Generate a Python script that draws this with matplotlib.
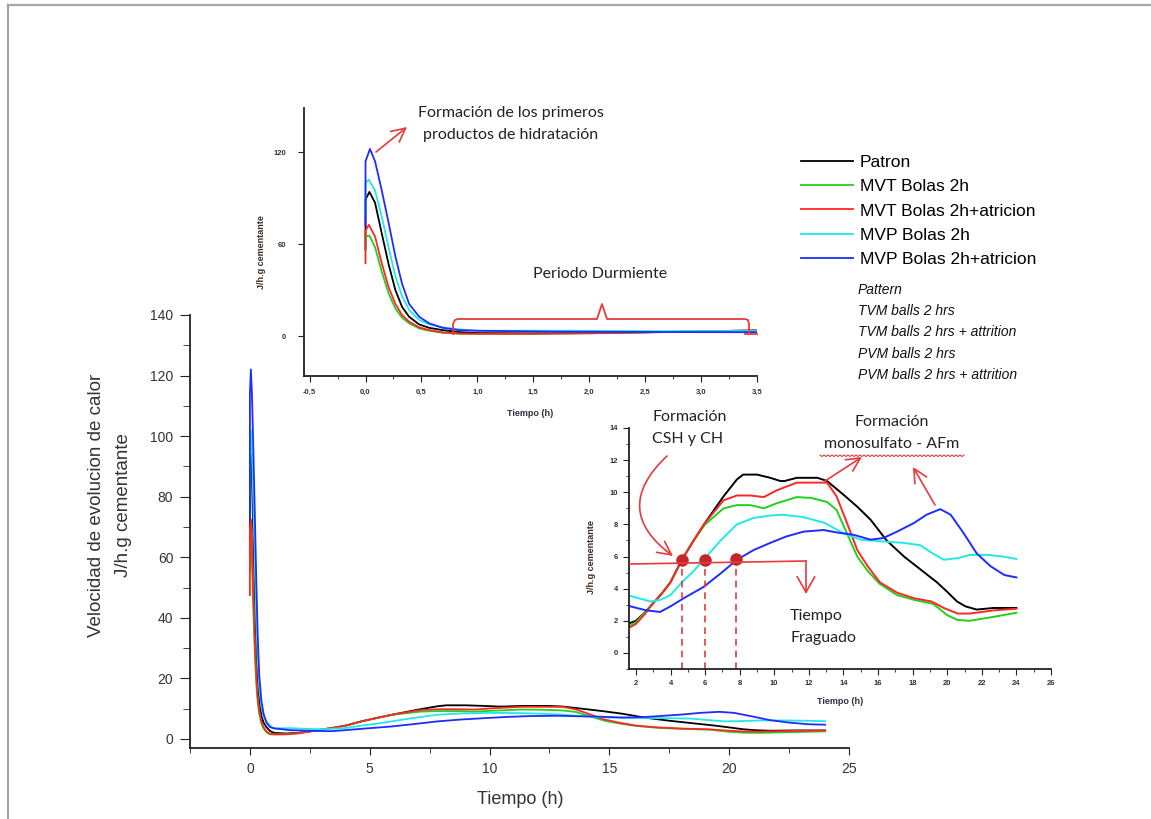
import numpy as np
import matplotlib
matplotlib.use("Agg")
import matplotlib.pyplot as plt
from matplotlib.lines import Line2D
from matplotlib.ticker import MultipleLocator, FuncFormatter

W, H = 1151, 819

# heat flow curves, time in h and J/h.g cementante
t_patron = [0, 0, 0.035, 0.085, 0.145, 0.206, 0.267, 0.327, 0.39, 0.48, 0.57, 0.69, 0.84, 1.0,
            1.5, 2.0, 2.5, 3.0, 3.5, 4.0, 4.66, 5.34, 6.0, 7.07, 7.84, 8.2, 9.0, 9.77, 10.35,
            10.6, 11.3, 12.5, 13.05, 14.0, 14.8, 15.56, 16.5, 17.5, 18.45, 19.4, 20.0, 20.57,
            21.05, 21.7, 22.7, 24.0]
q_patron = [57, 89, 94, 87, 67, 47, 30, 19, 12.6, 7.6, 5.4, 3.9, 2.6, 2.0,
            1.8, 2.0, 2.5, 3.1, 3.7, 4.4, 5.8, 7.0, 8.1, 9.75, 10.8, 11.1, 11.1, 10.9, 10.7,
            10.7, 10.9, 10.9, 10.7, 9.85, 9.1, 8.3, 7.0, 6.0, 5.2, 4.4, 3.8, 3.2,
            2.9, 2.7, 2.8, 2.8]

t_mvt = [0, 0, 0.035, 0.085, 0.145, 0.206, 0.267, 0.327, 0.39, 0.48, 0.57, 0.69, 0.84, 1.0,
         1.5, 2.0, 2.5, 3.0, 3.5, 4.0, 4.66, 5.34, 6.0, 7.07, 7.84, 8.6, 9.4, 10.1, 11.3,
         12.1, 13.05, 13.6, 14.2, 14.8, 15.4, 16.1, 17.1, 18.1, 19.2, 20.0, 20.6, 21.3,
         22.7, 24.0]
q_mvt = [56, 65, 65.5, 58, 42, 28, 18, 12, 8.3, 5.0, 3.5, 2.2, 1.5, 1.5,
         1.6, 1.9, 2.5, 3.1, 3.7, 4.4, 5.8, 7.0, 8.0, 9.0, 9.2, 9.2, 9.0, 9.3, 9.7,
         9.65, 9.4, 8.9, 7.45, 6.0, 5.1, 4.3, 3.6, 3.3, 3.05, 2.35, 2.05, 2.0,
         2.25, 2.5]

t_mvt_atr = [0, 0, 0.03, 0.085, 0.145, 0.206, 0.267, 0.327, 0.39, 0.48, 0.57, 0.69, 0.84, 1.0,
             1.5, 2.0, 2.5, 3.0, 3.5, 4.0, 4.66, 5.34, 6.0, 7.07, 7.84, 8.6, 9.4, 10.1, 11.3,
             12.5, 13.05, 13.6, 14.2, 14.8, 15.4, 16.1, 17.1, 18.1, 19.1, 19.8, 20.6, 21.3,
             22.7, 24.0]
q_mvt_atr = [47.5, 69, 72.5, 65, 47.5, 32, 21, 13.7, 9.4, 5.7, 3.9, 2.4, 1.7, 1.5,
             1.5, 1.8, 2.4, 3.1, 3.7, 4.4, 5.8, 7.0, 8.1, 9.5, 9.8, 9.8, 9.7, 10.1, 10.6,
             10.6, 10.6, 9.75, 8.1, 6.4, 5.4, 4.4, 3.75, 3.4, 3.2, 2.8, 2.45, 2.45,
             2.65, 2.75]

t_mvp = [0, 0, 0.03, 0.085, 0.145, 0.206, 0.267, 0.327, 0.39, 0.48, 0.57, 0.69, 0.84, 1.0,
         1.67, 2.83, 3.4, 4.0, 4.66, 5.34, 6.0, 6.9, 7.84, 8.8, 9.77, 10.5, 11.7, 12.9,
         14.0, 15.0, 16.1, 17.5, 18.45, 19.0, 19.8, 20.6, 21.3, 22.4, 23.2, 24.0]
q_mvp = [80, 100, 102, 95, 78, 58, 39, 26, 17, 10.5, 7.6, 5.7, 4.4, 3.5,
         3.55, 3.2, 3.3, 3.6, 4.4, 5.1, 5.9, 7.0, 8.0, 8.4, 8.55, 8.6, 8.45, 8.1,
         7.45, 7.05, 6.95, 6.85, 6.7, 6.3, 5.8, 5.9, 6.1, 6.1, 6.0, 5.85]

t_mvp_atr = [0, 0, 0.04, 0.085, 0.145, 0.206, 0.267, 0.327, 0.39, 0.48, 0.57, 0.69, 0.84, 1.0,
             1.67, 2.6, 3.4, 4.0, 4.76, 5.9, 6.9, 7.84, 8.8, 9.77, 10.7, 11.7, 12.85,
             13.6, 14.6, 15.56, 16.3, 17.1, 18.1, 18.8, 19.6, 20.2, 20.95, 21.7, 22.5,
             23.3, 24.0]
q_mvp_atr = [72, 114, 122, 114, 95, 74, 52, 34, 21, 12.6, 8.3, 5.4, 3.9, 3.5,
             2.9, 2.65, 2.55, 2.9, 3.4, 4.1, 4.95, 5.8, 6.4, 6.85, 7.25, 7.55, 7.65,
             7.5, 7.35, 7.05, 7.15, 7.55, 8.1, 8.6, 8.95, 8.6, 7.45, 6.2, 5.4,
             4.85, 4.7]

series_t = [t_patron, t_mvt, t_mvt_atr, t_mvp, t_mvp_atr]
series_q = [q_patron, q_mvt, q_mvt_atr, q_mvp, q_mvp_atr]
names_es = ["Patron", "MVT Bolas 2h", "MVT Bolas 2h+atricion", "MVP Bolas 2h",
            "MVP Bolas 2h+atricion"]
names_en = ["Pattern", "TVM balls 2 hrs", "TVM balls 2 hrs + attrition", "PVM balls 2 hrs",
            "PVM balls 2 hrs + attrition"]
colors = ["#000000", "#1ed21e", "#ff2626", "#22e8e8", "#1e2cff"]

# setting time marks on the zoomed inset
t_fraguado = [4.66, 5.98, 7.8]
q_fraguado = [5.8, 5.8, 5.85]

RED = "#e8393b"
SANS = ["Liberation Sans", "DejaVu Sans"]
CAL = ["Lato", "DejaVu Sans"]
plt.rcParams["font.family"] = SANS


def fx(px):
    return px / W


def fy(py):
    return 1 - py / H


def fp(px, py):
    return (px, H - py)


def style_axes(ax, size, weight="normal"):
    for s in ("top", "right"):
        ax.spines[s].set_visible(False)
    for s in ("left", "bottom"):
        ax.spines[s].set_linewidth(1.3)
        ax.spines[s].set_color("#222222")
    ax.tick_params(which="both", direction="out", colors="#222222", labelcolor="#333333",
                   labelsize=size)
    for lab in ax.get_xticklabels() + ax.get_yticklabels():
        lab.set_fontweight(weight)


fig = plt.figure(figsize=(W / 100, H / 100), dpi=100)

# page border (top and left only)
fig.add_artist(Line2D([fx(8), 1], [fy(5), fy(5)], transform=fig.transFigure,
                      color="#a6a6a6", lw=1.6))
fig.add_artist(Line2D([fx(8), fx(8)], [fy(5), 0], transform=fig.transFigure,
                      color="#a6a6a6", lw=1.6))

# ---- main plot
ax = fig.add_axes([fx(190), fy(748), (849 - 190) / W, (748 - 315) / H])
handles = []
for t, q, c in zip(series_t, series_q, colors):
    ln, = ax.plot(t, q, color=c, lw=1.3)
    handles.append(ln)
ax.set_xlim(-2.5, 25)
ax.set_ylim(-3, 140)
ax.xaxis.set_major_locator(MultipleLocator(5))
ax.xaxis.set_minor_locator(MultipleLocator(2.5))
ax.yaxis.set_major_locator(MultipleLocator(20))
ax.yaxis.set_minor_locator(MultipleLocator(10))
style_axes(ax, 10)
ax.tick_params(axis="y", which="major", length=7, pad=5)
ax.tick_params(axis="y", which="minor", length=5)
ax.tick_params(axis="x", which="major", length=5, pad=5)
ax.tick_params(axis="x", which="minor", length=3.5)
fig.text(fx(110), fy(505), "Velocidad de evolucion de calor\nJ/h.g cementante",
         rotation=90, ha="center", va="center", fontsize=13.5, linespacing=1.8,
         color="#333333")
fig.text(fx(520), fy(800), "Tiempo (h)", ha="center", va="center", fontsize=13,
         color="#333333")

# ---- top inset: first hours
ax1 = fig.add_axes([fx(304), fy(376), (757 - 304) / W, (376 - 108) / H])
ax1.patch.set_alpha(0)
for t, q, c in zip(series_t, series_q, colors):
    ax1.plot(t, q, color=c, lw=1.3)
ax1.set_xlim(-0.55, 3.5)
ax1.set_ylim(-26, 148.7)
ax1.xaxis.set_major_locator(MultipleLocator(0.5))
ax1.xaxis.set_minor_locator(MultipleLocator(0.25))
ax1.yaxis.set_major_locator(MultipleLocator(60))
ax1.xaxis.set_major_formatter(FuncFormatter(lambda v, _: f"{v:.1f}".replace(".", ",")))
style_axes(ax1, 5.5, "bold")
ax1.tick_params(which="major", length=4, pad=5)
ax1.tick_params(axis="y", which="major", pad=9)
ax1.tick_params(which="minor", length=2.5)
fig.text(fx(262), fy(252), "J/h.g cementante", rotation=90, ha="center", va="center",
         fontsize=6.5, fontweight="bold", color="#3a2a20")
fig.text(fx(530), fy(414), "Tiempo (h)", ha="center", va="center", fontsize=6.5,
         fontweight="bold", color="#3a2a40")

arrow = dict(arrowstyle="->,head_length=0.7,head_width=0.35", color=RED, lw=1.2,
             mutation_scale=14, shrinkA=0, shrinkB=0)
ax1.annotate("", xy=fp(407, 127), xytext=fp(376, 152), xycoords="figure pixels",
             textcoords="figure pixels", arrowprops=arrow)
fig.text(fx(511), fy(124), "Formación de los primeros\nproductos de hidratación",
         ha="center", va="center", fontsize=11.5, family=CAL, linespacing=1.7,
         color="#222222")
fig.text(fx(600), fy(274), "Periodo Durmiente", ha="center", va="center", fontsize=11.5,
         family=CAL, color="#222222")
brace_x = [453, 453, 455, 458, 597, 602, 607, 745, 748, 749, 749]
brace_y = [334, 324, 320, 319, 319, 304, 319, 319, 320, 324, 333]
fig.add_artist(Line2D([fx(v) for v in brace_x], [fy(v) for v in brace_y],
                      transform=fig.transFigure, color=RED, lw=1.3))
fig.add_artist(Line2D([fx(745), fx(757)], [fy(334), fy(334)], transform=fig.transFigure,
                      color=RED, lw=1.3))

# ---- right inset: acceleration period
ax2 = fig.add_axes([fx(629), fy(669), (1051 - 629) / W, (669 - 428) / H])
ax2.patch.set_alpha(0)
for t, q, c in zip(series_t, series_q, colors):
    ax2.plot(t, q, color=c, lw=1.4)
ax2.set_xlim(1.6, 26)
ax2.set_ylim(-1, 14)
ax2.xaxis.set_major_locator(MultipleLocator(2))
ax2.xaxis.set_minor_locator(MultipleLocator(1))
ax2.yaxis.set_major_locator(MultipleLocator(2))
ax2.yaxis.set_minor_locator(MultipleLocator(1))
style_axes(ax2, 5.5, "bold")
ax2.tick_params(which="major", length=4, pad=4)
ax2.tick_params(which="minor", length=2.5)
fig.text(fx(591), fy(557), "J/h.g cementante", rotation=90, ha="center", va="center",
         fontsize=6.5, fontweight="bold", color="#3a2a20")
fig.text(fx(840), fy(702), "Tiempo (h)", ha="center", va="center", fontsize=6.5,
         fontweight="bold", color="#3a2a40")

ax2.vlines(t_fraguado, -1, q_fraguado, colors=RED, linestyles=(0, (4, 3)), lw=1.2)
ax2.plot(t_fraguado, q_fraguado, "o", color="#c4262b", ms=8, zorder=5)

ax2.annotate("", xy=fp(806, 594), xytext=fp(806, 561), xycoords="figure pixels",
             textcoords="figure pixels",
             arrowprops=dict(arrow, arrowstyle="->,head_length=0.8,head_width=0.45"))
fig.add_artist(Line2D([fx(630), fx(806)], [fy(564), fy(561)], transform=fig.transFigure,
                      color=RED, lw=1.2))
ax2.annotate("", xy=fp(673, 556), xytext=fp(667, 456), xycoords="figure pixels",
             textcoords="figure pixels",
             arrowprops=dict(arrow, connectionstyle="arc3,rad=0.6"))
ax2.annotate("", xy=fp(862, 457), xytext=fp(825, 481), xycoords="figure pixels",
             textcoords="figure pixels", arrowprops=arrow)
ax2.annotate("", xy=fp(913, 467), xytext=fp(935, 505), xycoords="figure pixels",
             textcoords="figure pixels", arrowprops=arrow)

fig.text(fx(652), fy(428), "Formación\nCSH y CH", ha="left", va="center", fontsize=11.5,
         family=CAL, linespacing=1.7, color="#222222")
fig.text(fx(892), fy(433), "Formación\nmonosulfato - AFm", ha="center", va="center",
         fontsize=11.5, family=CAL, linespacing=1.7, color="#222222")
fig.text(fx(790), fy(627), "Tiempo\nFraguado", ha="left", va="center", fontsize=11.5,
         family=CAL, linespacing=1.7, color="#222222")
# spell-check squiggle under "monosulfato - AFm"
wx = np.arange(820, 966, 2)
wy = 455 + np.tile([0.0, 1.5], len(wx))[:len(wx)]
fig.add_artist(Line2D(fx(wx), fy(wy), transform=fig.transFigure, color=RED, lw=0.8))

# ---- legend
fig.legend(handles, names_es, loc="upper left", bbox_to_anchor=(fx(801), fy(155)),
           frameon=False, fontsize=12.5, handlelength=3.0, handletextpad=0.4,
           labelspacing=0.52, borderaxespad=0, borderpad=0)
for i, s in enumerate(names_en):
    fig.text(fx(858), fy(290 + i * 21.2), s, ha="left", va="center", fontsize=10,
             style="italic", color="#111111")

fig.savefig("out.png", dpi=100)
